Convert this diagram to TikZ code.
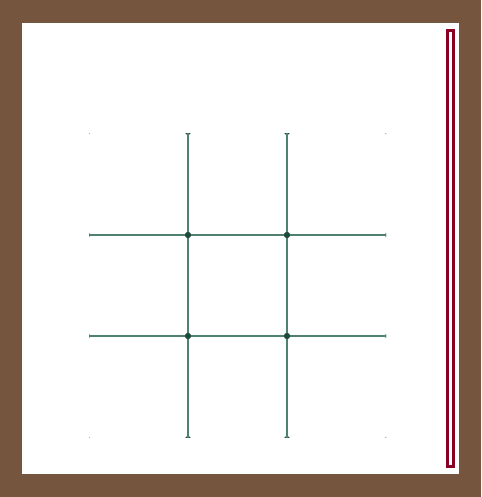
\documentclass[tikz,border=0pt]{standalone}
\usetikzlibrary{positioning}
\definecolor{frame}{HTML}{75553D}
\definecolor{grid}{HTML}{4F8172}
\definecolor{knot}{HTML}{1E4A3C}
\definecolor{bar}{HTML}{8A0022}
\begin{document}
\begin{tikzpicture}[x=1pt,y=-1pt,
  knot/.style={circle,fill=knot,inner sep=0pt,minimum size=6pt},
  wire/.style={draw=grid,line width=1.3pt},
  slot/.style={draw=bar,line width=3pt}]
\fill[frame] (0,0) rectangle (481,497);
\fill[white] (22,23) rectangle (459,474);
\useasboundingbox (0,0) rectangle (481,497);
\draw[slot] (447.5,30.5) rectangle (453.5,466.5);
\begin{scope}
\clip (89,134) rectangle (386,437);
% grid points
\foreach \i/\x in {0/87,1/188,2/287,3/388}
  \foreach \j/\y in {0/132,1/235,2/336,3/439}
    \node[knot] (p-\i-\j) at (\x,\y) {};
% rows and columns
\foreach \k in {1,2} {
  \draw[wire] (p-0-\k.center) -- (p-3-\k.center);
  \draw[wire] (p-\k-0.center) -- (p-\k-3.center);
}
\foreach \i in {1,2}
  \foreach \j in {1,2}
    \node[knot] at (p-\i-\j) {};
\end{scope}
\end{tikzpicture}
\end{document}
